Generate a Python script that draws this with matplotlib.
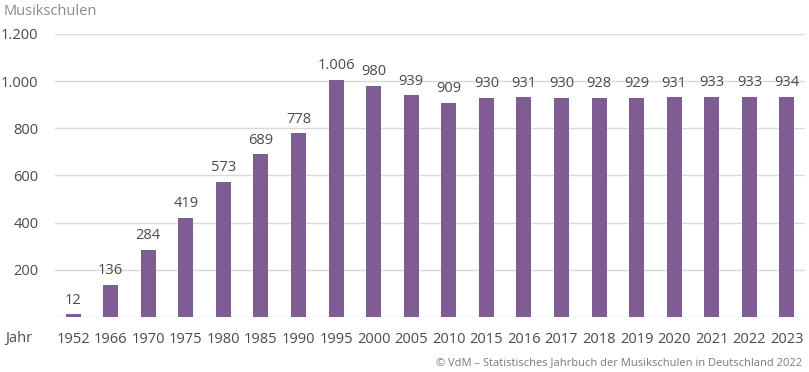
import matplotlib
matplotlib.use("Agg")
import matplotlib.pyplot as plt
import numpy as np

years = ["1952", "1966", "1970", "1975", "1980", "1985", "1990", "1995", "2000", "2005",
         "2010", "2015", "2016", "2017", "2018", "2019", "2020", "2021", "2022", "2023"]
schools = [12, 136, 284, 419, 573, 689, 778, 1006, 980, 939,
           909, 930, 931, 930, 928, 929, 931, 933, 933, 934]
y_ticks = [200, 400, 600, 800, 1000, 1200]

BAR_COLOR = "#7f5c94"
TEXT = "#4a4a4a"
GRID = "#d9d9d9"


def de_fmt(v):
    return f"{v:,}".replace(",", ".")


plt.rcParams["font.family"] = ["Open Sans", "DejaVu Sans"]

fig = plt.figure(figsize=(8.09, 3.72), dpi=100)
ax = fig.add_axes([0.068, 0.148, 0.927, 0.761])

x = np.arange(len(years))
ax.bar(x, schools, width=0.4, color=BAR_COLOR, zorder=3)
for xi, v in zip(x, schools):
    ax.text(xi, v + 28, de_fmt(v), ha="center", va="bottom", fontsize=10.5, color=TEXT)

ax.set_xlim(-0.48, len(years) - 0.52)
ax.set_ylim(0, 1200)
for yv in [0] + y_ticks:
    ax.axhline(yv, color=GRID, lw=1, zorder=1)

ax.set_yticks(y_ticks)
ax.set_yticklabels([de_fmt(v) for v in y_ticks])
ax.set_xticks(x)
ax.set_xticklabels(years)
ax.tick_params(axis="both", length=0, labelsize=10.5, colors=TEXT)
ax.tick_params(axis="y", pad=12)
ax.tick_params(axis="x", pad=11)
for s in ax.spines.values():
    s.set_visible(False)

fig.text(0.005, 0.988, "Musikschulen", ha="left", va="top", fontsize=10.5, color="#8a8a8a")
fig.text(0.007, 0.09, "Jahr", ha="left", va="center", fontsize=10.5, color=TEXT)
fig.text(0.992, 0.025, "\u00a9 VdM \u2013 Statistisches Jahrbuch der Musikschulen in Deutschland 2022",
         ha="right", va="center", fontsize=8, color="#7a7a7a")

fig.savefig("out.png", dpi=100, facecolor="white")
